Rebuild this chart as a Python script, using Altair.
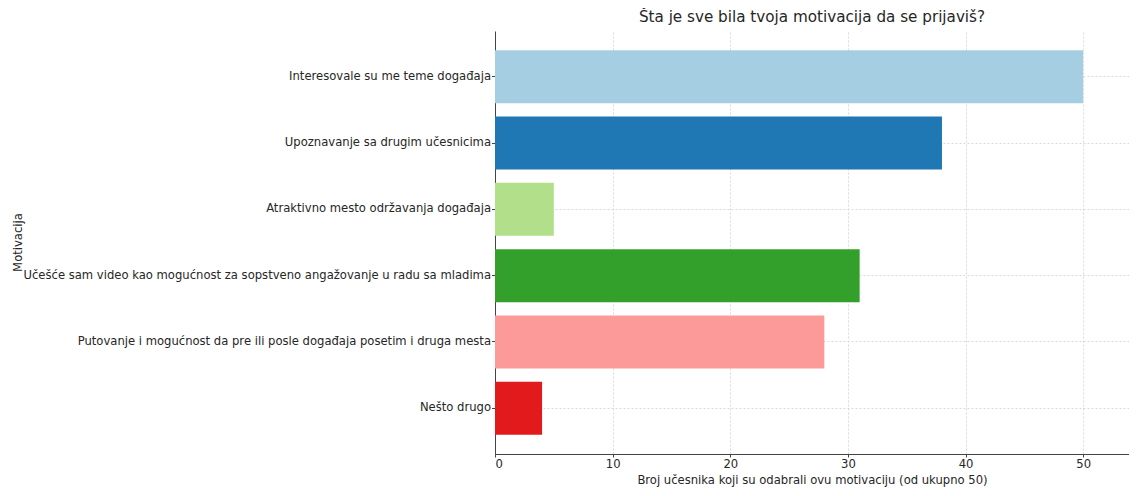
import altair as alt
import pandas as pd

categories = [
    "Interesovale su me teme događaja",
    "Upoznavanje sa drugim učesnicima",
    "Atraktivno mesto održavanja događaja",
    "Učešće sam video kao mogućnost za sopstveno angažovanje u radu sa mladima",
    "Putovanje i mogućnost da pre ili posle događaja posetim i druga mesta",
    "Nešto drugo",
]
values = [50, 38, 5, 31, 28, 4]
colors = ["#a6cee3", "#1f78b4", "#b2df8a", "#33a02c", "#fb9a99", "#e31a1c"]
x_ticks = [0, 10, 20, 30, 40, 50]

df = pd.DataFrame({"Motivacija": categories, "Broj": values})

FONT = "DejaVu Sans"
FS = 11.6

chart = (
    alt.Chart(df)
    .mark_bar()
    .encode(
        y=alt.Y(
            "Motivacija:N",
            sort=categories,
            scale=alt.Scale(paddingInner=0.2, paddingOuter=0.29),
            axis=alt.Axis(
                title="Motivacija",
                labelLimit=800,
                labelFontSize=FS,
                labelColor="#262626",
                labelPadding=1,
                tickSize=3.5,
                tickColor="#444",
                domainColor="#444",
                grid=True,
                gridDash=[2, 2],
                gridColor="#d9d9d9",
                titleFontSize=FS,
                titleFontWeight="normal",
                titleColor="#262626",
                titleAngle=270,
                titleX=-477,
                titleY=211,
                titleAlign="center",
                titleBaseline="middle",
            ),
        ),
        x=alt.X(
            "Broj:Q",
            scale=alt.Scale(domain=[0, 53.9], nice=False),
            axis=alt.Axis(
                title="Broj učesnika koji su odabrali ovu motivaciju (od ukupno 50)",
                values=x_ticks,
                labelFontSize=FS,
                labelColor="#262626",
                labelPadding=1,
                tickSize=3,
                tickColor="#444",
                domainColor="#444",
                grid=True,
                gridDash=[2, 2],
                gridColor="#d9d9d9",
                titleFontSize=FS,
                titleFontWeight="normal",
                titleColor="#262626",
                titleY=26,
                titleBaseline="middle",
            ),
        ),
        color=alt.Color(
            "Motivacija:N",
            sort=categories,
            scale=alt.Scale(domain=categories, range=colors),
            legend=None,
        ),
    )
    .properties(
        width=634,
        height=423,
        title=alt.TitleParams(
            "Šta je sve bila tvoja motivacija da se prijaviš?",
            fontSize=15.2,
            fontWeight="normal",
            color="#262626",
            font=FONT,
            anchor="middle",
            offset=6,
        ),
        autosize=alt.AutoSizeParams(type="none"),
        padding={"left": 487, "top": 23, "right": 0, "bottom": 34},
    )
    .configure(font=FONT)
    .configure_view(stroke=None)
    .configure_axis(labelFont=FONT, titleFont=FONT)
)

chart.save("out.html", embed_options={"renderer": "svg", "actions": False})
